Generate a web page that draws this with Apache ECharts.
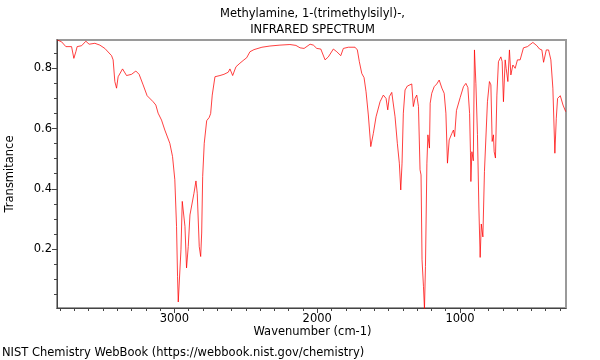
<!DOCTYPE html>
<html>
<head>
<meta charset="utf-8">
<script src="https://cdn.jsdelivr.net/npm/echarts@6/dist/echarts.min.js"></script>
<style>
html,body{margin:0;padding:0;background:#fff;}
#c{width:600px;height:360px;}
</style>
</head>
<body>
<div id="c"></div>
<script>
const titleLines = ["Methylamine, 1-(trimethylsilyl)-,", "INFRARED SPECTRUM"];
const xName = "Wavenumber (cm-1)";
const yName = "Transmitance";
const footer = "NIST Chemistry WebBook (https://webbook.nist.gov/chemistry)";

const xMajorTicks = [1000, 2000, 3000];
const yMajorTicks = [0.2, 0.4, 0.6, 0.8];
const xRange = [258, 3822];
const yRange = [0.004, 0.894];

const wavenumber = [3820,3790,3760,3720,3704,3690,3681,3650,3620,3597,3557,3522,3487,3440,3429,3417,3405,3394,3363,3335,3300,3270,3247,3219,3191,3149,3130,3114,3090,3067,3055,3032,3013,2997,2985,2978,2973,2966,2954,2945,2936,2926,2915,2903,2891,2879,2863,2849,2840,2826,2816,2809,2802,2791,2774,2756,2746,2735,2716,2681,2653,2623,2611,2592,2569,2541,2513,2494,2471,2443,2387,2331,2261,2191,2149,2120,2092,2050,2027,2003,1975,1945,1922,1887,1863,1835,1817,1782,1735,1719,1705,1688,1672,1658,1642,1625,1616,1607,1588,1560,1537,1518,1506,1495,1478,1469,1455,1439,1425,1415,1406,1397,1385,1369,1355,1338,1327,1315,1303,1291,1280,1273,1266,1256,1249,1242,1232,1225,1221,1214,1209,1198,1181,1163,1146,1127,1111,1099,1088,1076,1057,1046,1038,1025,999,976,959,945,933,927,924,917,907,899,889,878,868,859,851,840,829,819,808,794,784,775,766,761,752,742,731,714,705,696,684,677,665,654,644,630,614,598,579,556,528,490,462,443,427,415,396,380,364,350,336,326,317,298,279,260];
const transmittance = [0.894,0.888,0.872,0.872,0.833,0.855,0.872,0.875,0.890,0.880,0.883,0.877,0.866,0.842,0.828,0.756,0.734,0.772,0.798,0.776,0.780,0.791,0.780,0.745,0.709,0.689,0.678,0.651,0.628,0.595,0.590,0.551,0.507,0.430,0.275,0.109,0.024,0.024,0.197,0.358,0.358,0.275,0.137,0.208,0.313,0.317,0.385,0.426,0.385,0.208,0.175,0.253,0.441,0.551,0.626,0.637,0.650,0.711,0.772,0.776,0.780,0.787,0.798,0.776,0.805,0.817,0.828,0.835,0.855,0.862,0.870,0.874,0.877,0.879,0.876,0.868,0.866,0.880,0.877,0.866,0.864,0.828,0.838,0.864,0.855,0.842,0.866,0.870,0.870,0.861,0.822,0.783,0.769,0.722,0.645,0.540,0.545,0.584,0.639,0.689,0.711,0.700,0.662,0.706,0.720,0.714,0.639,0.551,0.485,0.396,0.485,0.651,0.728,0.741,0.737,0.748,0.673,0.700,0.711,0.673,0.463,0.446,0.164,0.076,0.000,0.142,0.485,0.579,0.579,0.535,0.684,0.717,0.739,0.748,0.761,0.734,0.717,0.651,0.485,0.562,0.584,0.595,0.573,0.660,0.703,0.739,0.750,0.736,0.650,0.520,0.424,0.523,0.493,0.861,0.750,0.580,0.336,0.172,0.283,0.240,0.457,0.463,0.689,0.756,0.745,0.557,0.579,0.523,0.502,0.711,0.822,0.838,0.822,0.689,0.828,0.800,0.756,0.861,0.778,0.811,0.800,0.828,0.828,0.868,0.872,0.886,0.875,0.864,0.861,0.820,0.861,0.861,0.828,0.734,0.518,0.634,0.700,0.709,0.678,0.656];

const xMinorTicks = [];
for (let v = 300; v <= 3800; v += 100) if (xMajorTicks.indexOf(v) < 0) xMinorTicks.push(v);
const yMinorTicks = [];
for (let i = 1; i <= 17; i++) { const v = Math.round(i * 5) / 100; if (yMajorTicks.indexOf(v) < 0) yMinorTicks.push(v); }

const seriesData = wavenumber.map((w, i) => [w, transmittance[i]]);

const FONT = "DejaVu Sans";
const FS = 11.5;
const chart = echarts.init(document.getElementById('c'), null, {renderer: 'canvas'});
const gridL = 57, gridR = 34, gridT = 40, gridB = 52;
const cx = gridL + (600 - gridL - gridR) / 2;

function xAxisDef(ticks, len, labels) {
  return {
    type: 'value', inverse: true, min: xRange[0], max: xRange[1], gridIndex: 0, position: 'bottom',
    axisLine: {show: labels, onZero: false, lineStyle: {color: '#444', width: 1}},
    axisTick: {show: true, customValues: ticks, length: len, inside: false, lineStyle: {color: '#444', width: 1}},
    axisLabel: {show: labels, customValues: ticks, color: '#000', fontSize: FS, fontFamily: FONT, margin: 5,
      formatter: v => String(Math.round(v))},
    splitLine: {show: false}
  };
}
function yAxisDef(ticks, len, labels) {
  return {
    type: 'value', min: yRange[0], max: yRange[1], gridIndex: 0, position: 'left',
    axisLine: {show: labels, onZero: false, lineStyle: {color: '#444', width: 1}},
    axisTick: {show: true, customValues: ticks, length: len, inside: false, lineStyle: {color: '#444', width: 1}},
    axisLabel: {show: labels, customValues: ticks, color: '#000', fontSize: FS, fontFamily: FONT, margin: 5,
      formatter: v => v.toFixed(1)},
    splitLine: {show: false}
  };
}

chart.setOption({
  animation: false,
  backgroundColor: '#fff',
  grid: {left: gridL, right: gridR, top: gridT, bottom: gridB, show: true, borderColor: '#9a9a9a', borderWidth: 2, backgroundColor: 'transparent'},
  xAxis: [xAxisDef(xMajorTicks, 5, true), xAxisDef(xMinorTicks, 3, false)],
  yAxis: [yAxisDef(yMajorTicks, 5, true), yAxisDef(yMinorTicks, 3, false)],
  series: [{
    type: 'line', data: seriesData, showSymbol: false, symbol: 'none', clip: true,
    lineStyle: {color: 'rgba(255,0,0,0.75)', width: 1}, z: 1
  }],
  graphic: [
    {type: 'text', x: cx + 1, y: 14, style: {text: titleLines[0], fontSize: FS, fontFamily: FONT, fill: '#000', align: 'center', verticalAlign: 'middle'}},
    {type: 'text', x: cx + 1, y: 30, style: {text: titleLines[1], fontSize: FS, fontFamily: FONT, fill: '#000', align: 'center', verticalAlign: 'middle'}},
    {type: 'text', x: cx + 1, y: 332, style: {text: xName, fontSize: FS, fontFamily: FONT, fill: '#000', align: 'center', verticalAlign: 'middle'}},
    {type: 'text', x: 10.5, y: 174, rotation: Math.PI / 2, style: {text: yName, fontSize: FS, fontFamily: FONT, fill: '#000', align: 'center', verticalAlign: 'middle'}},
    {type: 'text', x: 2, y: 353, style: {text: footer, fontSize: FS, fontFamily: FONT, fill: '#000', align: 'left', verticalAlign: 'middle'}}
  ]
});
</script>
</body>
</html>
